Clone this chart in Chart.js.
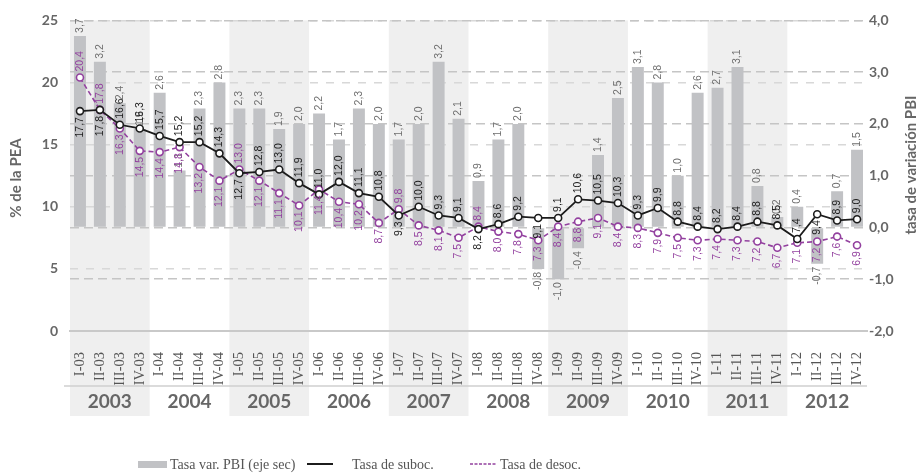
<!DOCTYPE html>
<html>
<head>
<meta charset="utf-8">
<script src="https://cdn.jsdelivr.net/npm/chart.js@4.4.0/dist/chart.umd.min.js"></script>
<style>
  html, body { margin: 0; padding: 0; background: #fff; }
  #wrap { width: 922px; height: 473px; }
</style>
</head>
<body>
<div id="wrap"><canvas id="chart" width="922" height="473"></canvas></div>
<script>
// data
const years = ['2003', '2004', '2005', '2006', '2007', '2008', '2009', '2010', '2011', '2012'];
const quarterNames = ['I', 'II', 'III', 'IV'];
const quarters = years.flatMap(y => quarterNames.map(q => q + '-' + y.slice(2)));

// Tasa var. PBI (eje sec)
const pbi = [3.7, 3.2, 2.4, 1.9, 2.6, 1.1, 2.3, 2.8, 2.3, 2.3, 1.9, 2.0,
             2.2, 1.7, 2.3, 2.0, 1.7, 2.0, 3.2, 2.1, 0.9, 1.7, 2.0, -0.8,
             -1.0, -0.4, 1.4, 2.5, 3.1, 2.8, 1.0, 2.6, 2.7, 3.1, 0.8, 0.2,
             0.4, -0.7, 0.7, 1.5];
// Tasa de suboc.
const suboc = [17.7, 17.8, 16.6, 16.3, 15.7, 15.2, 15.2, 14.3, 12.7, 12.8, 13.0, 11.9,
               11.0, 12.0, 11.1, 10.8, 9.3, 10.0, 9.3, 9.1, 8.2, 8.6, 9.2, 9.1,
               9.1, 10.6, 10.5, 10.3, 9.3, 9.9, 8.8, 8.4, 8.2, 8.4, 8.8, 8.5,
               7.4, 9.4, 8.9, 9.0];
// Tasa de desoc.
const desoc = [20.4, 17.8, 16.3, 14.5, 14.4, 14.8, 13.2, 12.1, 13.0, 12.1, 11.1, 10.1,
               11.4, 10.4, 10.2, 8.7, 9.8, 8.5, 8.1, 7.5, 8.4, 8.0, 7.8, 7.3,
               8.4, 8.8, 9.1, 8.4, 8.3, 7.9, 7.5, 7.3, 7.4, 7.3, 7.2, 6.7,
               7.1, 7.2, 7.6, 6.9];

// where the value labels flip side (style only)
const purpleAbove = [0, 1, 8, 16, 20];
const blackBelow = [0, 1, 8, 16, 20, 23, 37];

const GRAY = '#c1c2c5';
const BLACK = '#1c1c1c';
const PURPLE = '#93419f';
const TXT = '#676767';

const fmt = v => v.toFixed(1).replace('.', ',');

function vText(ctx, text, x, y, align) {
  ctx.save();
  ctx.translate(x, y);
  ctx.rotate(-Math.PI / 2);
  ctx.textAlign = align;
  ctx.textBaseline = 'middle';
  ctx.fillText(text, 0, 0);
  ctx.restore();
}

const deco = {
  id: 'deco',
  beforeDraw(chart) {
    const { ctx, chartArea, scales } = chart;
    const x = scales.x;
    const step = x.getPixelForValue(1) - x.getPixelForValue(0);
    ctx.save();
    ctx.fillStyle = '#efefef';
    years.forEach((yr, k) => {
      if (k % 2) return;
      const x0 = x.getPixelForValue(k * 4) - step / 2;
      ctx.fillRect(x0, chartArea.top, step * 4, chartArea.bottom + 85 - chartArea.top);
    });
    ctx.restore();
  },
  afterDatasetsDraw(chart) {
    const { ctx } = chart;
    ctx.save();
    ctx.font = '10.5px "Liberation Sans", Arial, sans-serif';
    // bar labels
    ctx.fillStyle = '#6e6e6e';
    chart.getDatasetMeta(0).data.forEach((bar, i) => {
      const v = pbi[i];
      if (v >= 0) vText(ctx, fmt(v), bar.x, bar.y - 3, 'left');
      else vText(ctx, fmt(v), bar.x, bar.y + 3, 'right');
    });
    // purple labels
    ctx.fillStyle = PURPLE;
    chart.getDatasetMeta(1).data.forEach((pt, i) => {
      if (purpleAbove.includes(i)) vText(ctx, fmt(desoc[i]), pt.x, pt.y - 6, 'left');
      else vText(ctx, fmt(desoc[i]), pt.x, pt.y + 6, 'right');
    });
    // black labels
    ctx.fillStyle = BLACK;
    chart.getDatasetMeta(2).data.forEach((pt, i) => {
      if (blackBelow.includes(i)) vText(ctx, fmt(suboc[i]), pt.x, pt.y + 6, 'right');
      else vText(ctx, fmt(suboc[i]), pt.x, pt.y - 6, 'left');
    });
    ctx.restore();
  },
  afterDraw(chart) {
    const { ctx, chartArea, scales } = chart;
    const x = scales.x;
    const step = x.getPixelForValue(1) - x.getPixelForValue(0);
    ctx.save();
    // separator between quarters and years
    ctx.strokeStyle = '#cfcfcf';
    ctx.lineWidth = 1.5;
    ctx.beginPath();
    ctx.moveTo(chartArea.left - 6, chartArea.bottom + 55);
    ctx.lineTo(chartArea.right, chartArea.bottom + 55);
    ctx.stroke();
    // years
    ctx.fillStyle = TXT;
    ctx.font = 'bold 19px Lato, sans-serif';
    ctx.textAlign = 'center';
    ctx.textBaseline = 'middle';
    years.forEach((yr, k) => {
      const cx = x.getPixelForValue(k * 4) - step / 2 + step * 2;
      ctx.fillText(yr, cx, chartArea.bottom + 71);
    });
    // axis titles
    ctx.font = 'bold 15px Lato, sans-serif';
    vText(ctx, '% de la PEA', 16, 178, 'center');
    vText(ctx, 'tasa de variación PBI', 911, 165, 'center');
    // legend
    const ly = 464;
    ctx.font = '14px "Liberation Serif", serif';
    ctx.textAlign = 'left';
    ctx.fillStyle = GRAY;
    ctx.fillRect(138, ly - 3, 29, 7);
    ctx.fillStyle = '#555';
    ctx.fillText('Tasa var. PBI (eje sec)', 170, ly + 1);
    ctx.strokeStyle = BLACK;
    ctx.lineWidth = 2;
    ctx.beginPath(); ctx.moveTo(307, ly); ctx.lineTo(333, ly); ctx.stroke();
    ctx.fillText('Tasa de suboc.', 352, ly + 1);
    ctx.strokeStyle = PURPLE;
    ctx.lineWidth = 1.5;
    ctx.setLineDash([3, 1.5]);
    ctx.beginPath(); ctx.moveTo(470, ly); ctx.lineTo(497, ly); ctx.stroke();
    ctx.setLineDash([]);
    ctx.fillText('Tasa de desoc.', 500, ly + 1);
    ctx.restore();
  }
};

new Chart(document.getElementById('chart'), {
  type: 'bar',
  data: {
    labels: quarters,
    datasets: [
      {
        label: 'Tasa var. PBI (eje sec)',
        data: pbi,
        yAxisID: 'y2',
        backgroundColor: GRAY,
        barPercentage: 0.6,
        categoryPercentage: 1,
        order: 3
      },
      {
        type: 'line',
        label: 'Tasa de desoc.',
        data: desoc,
        yAxisID: 'y',
        borderColor: PURPLE,
        borderWidth: 1.6,
        borderDash: [5, 3],
        pointRadius: 3.5,
        pointBorderWidth: 1.6,
        pointBackgroundColor: '#fff',
        pointBorderColor: PURPLE,
        tension: 0,
        order: 2
      },
      {
        type: 'line',
        label: 'Tasa de suboc.',
        data: suboc,
        yAxisID: 'y',
        borderColor: BLACK,
        borderWidth: 1.8,
        pointRadius: 3.5,
        pointBorderWidth: 1.6,
        pointBackgroundColor: '#fff',
        pointBorderColor: BLACK,
        tension: 0,
        order: 1
      }
    ]
  },
  options: {
    responsive: false,
    animation: false,
    layout: { padding: { top: 20, bottom: 0, left: 0, right: 0 } },
    plugins: { legend: { display: false }, tooltip: { enabled: false } },
    scales: {
      x: {
        afterFit: s => { s.height = 142; },
        grid: { display: false },
        border: { display: true, color: '#c9c9c9', width: 2 },
        ticks: {
          minRotation: 90,
          maxRotation: 90,
          autoSkip: false,
          padding: 13,
          color: '#555',
          font: { family: '"Liberation Serif", serif', size: 14.5 }
        }
      },
      y: {
        position: 'left',
        min: 0,
        max: 25,
        afterFit: s => { s.width = 70; },
        grid: {
          drawTicks: false,
          lineWidth: 1.5,
          color: c => c.tick.value === 0 ? 'rgba(0,0,0,0)' : '#d8d8d8'
        },
        border: { display: false, dash: [8, 8] },
        ticks: {
          stepSize: 5,
          padding: 12,
          color: TXT,
          font: { family: 'Lato, sans-serif', weight: 'bold', size: 14 }
        }
      },
      y2: {
        position: 'right',
        min: -2,
        max: 4,
        afterFit: s => { s.width = 55; },
        grid: {
          drawTicks: false,
          lineWidth: 1.5,
          color: c => c.tick.value === -2 ? 'rgba(0,0,0,0)' : '#c5c5c5'
        },
        border: { display: false, dash: [9, 5] },
        ticks: {
          stepSize: 1,
          padding: 2,
          color: TXT,
          font: { family: 'Lato, sans-serif', weight: 'bold', size: 14 },
          callback: v => fmt(v)
        }
      }
    }
  },
  plugins: [deco]
});
</script>
</body>
</html>
